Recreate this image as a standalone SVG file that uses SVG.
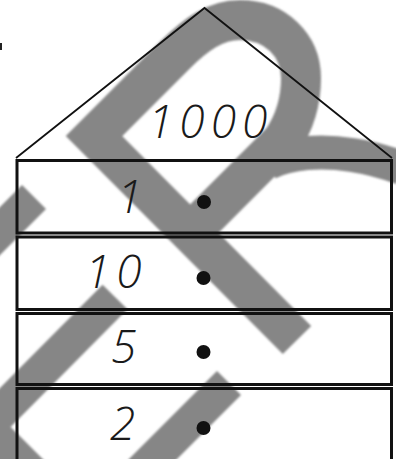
<svg xmlns="http://www.w3.org/2000/svg" width="396" height="459" viewBox="0 0 396 459">
  <defs>
    <style>
      .wm { fill: none; stroke: #868686; stroke-linejoin: miter; stroke-linecap: butt; }
      .line { fill: none; stroke: #111; }
      .box { fill: none; stroke: #111; stroke-width: 3; }
      .num { font-family: "Open Sans", "Liberation Sans", sans-serif; font-style: italic; font-weight: 300; font-size: 46px; fill: #1a1a1a; }
      .dot { fill: #111; }
    </style>
    <filter id="soft" x="-10%" y="-10%" width="120%" height="120%">
      <feGaussianBlur stdDeviation="0.8"/>
    </filter>
  </defs>
  <rect width="396" height="459" fill="#fff"/>
  <g id="watermark" filter="url(#soft)">
    <path class="wm" stroke-width="40" d="M 297 340 L 94 136 L 175 55 C 195 35, 215 20, 240 20 C 275 20, 301 45, 301 78 C 301 105, 293 125, 282 141 L 192 231"/>
    <path class="wm" stroke-width="34" d="M 268 163 C 290 152, 322 150, 352 155 C 372 158, 388 163, 402 168"/>
    <path class="wm" stroke-width="34" d="M 34 197 L -20 251"/>
    <path class="wm" stroke-width="35" d="M 115 297 L -14 427 L 40 481"/>
    <path class="wm" stroke-width="34" d="M 229 383 L 140 472"/>
  </g>
  <rect x="0" y="43" width="2" height="7" fill="#222"/>
  <g id="roof">
    <polyline class="line" stroke-width="1.8" points="16,158 204.5,8 392,158"/>
    <text class="num" x="148" y="138" letter-spacing="6">1000</text>
  </g>
  <g id="row1">
    <rect class="box" x="17" y="160.5" width="374.5" height="72.5"/>
    <text class="num" x="117" y="213">1</text>
    <circle class="dot" cx="204" cy="202" r="7"/>
  </g>
  <g id="row2">
    <rect class="box" x="17" y="237" width="374.5" height="72.5"/>
    <text class="num" x="85" y="288" letter-spacing="6">10</text>
    <circle class="dot" cx="203.5" cy="278" r="7"/>
  </g>
  <g id="row3">
    <rect class="box" x="17" y="313.5" width="374.5" height="71"/>
    <text class="num" x="111" y="363">5</text>
    <circle class="dot" cx="203.5" cy="352" r="7"/>
  </g>
  <g id="row4">
    <rect class="box" x="17" y="388.5" width="374.5" height="80"/>
    <text class="num" x="110" y="440">2</text>
    <circle class="dot" cx="203.5" cy="428" r="7"/>
  </g>
</svg>
